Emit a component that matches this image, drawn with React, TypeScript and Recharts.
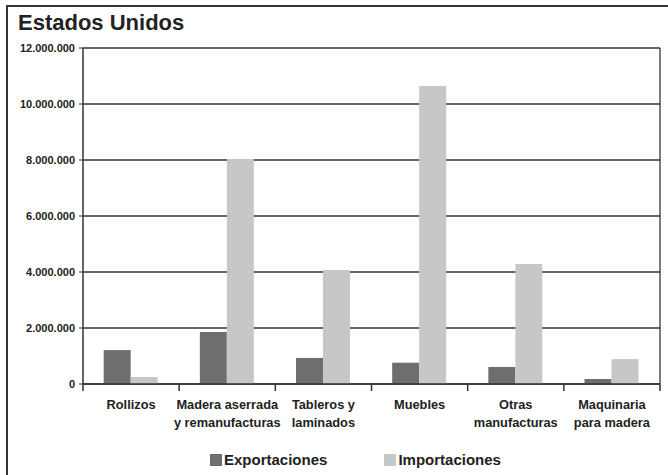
import React from "react";
import { BarChart, Bar, XAxis, YAxis, CartesianGrid, Legend } from "recharts";

const categories = [
  ["Rollizos"],
  ["Madera aserrada", "y remanufacturas"],
  ["Tableros y", "laminados"],
  ["Muebles"],
  ["Otras", "manufacturas"],
  ["Maquinaria", "para madera"],
];
const exportaciones = [1210000, 1860000, 930000, 760000, 610000, 180000];
const importaciones = [250000, 8040000, 4070000, 10640000, 4290000, 890000];
const yTicks = [0, 2000000, 4000000, 6000000, 8000000, 10000000, 12000000];

const data = categories.map((lines, i) => ({
  name: lines.join(" "),
  lines,
  Exportaciones: exportaciones[i],
  Importaciones: importaciones[i],
}));

const FONT = "'Liberation Sans', Arial, sans-serif";
const INK = "#333333";
const EXP = "#6d6e70";
const IMP = "#c6c7c9";

const fmt = (v: number) => String(v).replace(/\B(?=(\d{3})+(?!\d))/g, ".");

function CategoryTick(props: any) {
  const { x, y, payload, index, visibleTicksCount } = props;
  const half = payload.offset || 0;
  const lines: string[] = data[index] ? data[index].lines : [payload.value];
  return (
    <g>
      <line x1={x - half} y1={y} x2={x - half} y2={y + 7} stroke={INK} strokeWidth={1.5} />
      {index === visibleTicksCount - 1 && (
        <line x1={x + half} y1={y} x2={x + half} y2={y + 7} stroke={INK} strokeWidth={1.5} />
      )}
      {lines.map((t, i) => (
        <text
          key={i}
          x={x}
          y={y + 25 + i * 18}
          textAnchor="middle"
          fontFamily={FONT}
          fontWeight="bold"
          fontSize={12.8}
          fill="#222"
        >
          {t}
        </text>
      ))}
    </g>
  );
}

function LegendContent({ payload }: any) {
  return (
    <div style={{ display: "flex", justifyContent: "flex-start", paddingLeft: 210, gap: 57, fontFamily: FONT }}>
      {(payload || []).map((p: any) => (
        <div key={p.value} style={{ display: "flex", alignItems: "center" }}>
          <span style={{ width: 12, height: 12, background: p.color, display: "inline-block", marginRight: 2 }} />
          <span style={{ fontWeight: "bold", fontSize: 15, color: "#222" }}>{p.value}</span>
        </div>
      ))}
    </div>
  );
}

export default function App() {
  return (
    <div style={{ position: "absolute", left: 0, top: 0, width: 668, height: 475, background: "#fff", overflow: "hidden" }}>
      <div
        style={{
          position: "absolute",
          left: 6,
          top: 5,
          width: 700,
          height: 500,
          borderTop: `2px solid ${INK}`,
          borderLeft: `2px solid ${INK}`,
        }}
      />
      <div
        style={{
          position: "absolute",
          left: 18,
          top: 10,
          fontFamily: FONT,
          fontWeight: "bold",
          fontSize: 22,
          color: "#222",
        }}
      >
        Estados Unidos
      </div>
      <BarChart
        width={668}
        height={475}
        data={data}
        margin={{ top: 48, right: 8, left: 8, bottom: 41 }}
        barCategoryGap="21.5%"
        barGap={0}
      >
        <CartesianGrid
          stroke={INK}
          strokeWidth={1.3}
          verticalCoordinatesGenerator={({ offset }: any) => [offset.left + offset.width]}
        />
        <XAxis
          dataKey="name"
          height={50}
          interval={0}
          tickLine={false}
          tickSize={0}
          tickMargin={0}
          axisLine={{ stroke: INK, strokeWidth: 1.5 }}
          tick={<CategoryTick />}
        />
        <YAxis
          width={75}
          domain={[0, 12000000]}
          ticks={yTicks}
          tickFormatter={fmt}
          tickSize={4}
          tickMargin={4}
          axisLine={{ stroke: INK, strokeWidth: 1.5 }}
          tickLine={{ stroke: INK }}
          tick={{ fontFamily: FONT, fontWeight: "bold", fontSize: 11, fill: "#222" }}
        />
        <Legend
          layout="horizontal"
          verticalAlign="middle"
          align="center"
          wrapperStyle={{ top: 451, left: 0, width: 668 }}
          content={<LegendContent />}
        />
        <Bar dataKey="Exportaciones" fill={EXP} isAnimationActive={false} />
        <Bar dataKey="Importaciones" fill={IMP} isAnimationActive={false} />
      </BarChart>
    </div>
  );
}
